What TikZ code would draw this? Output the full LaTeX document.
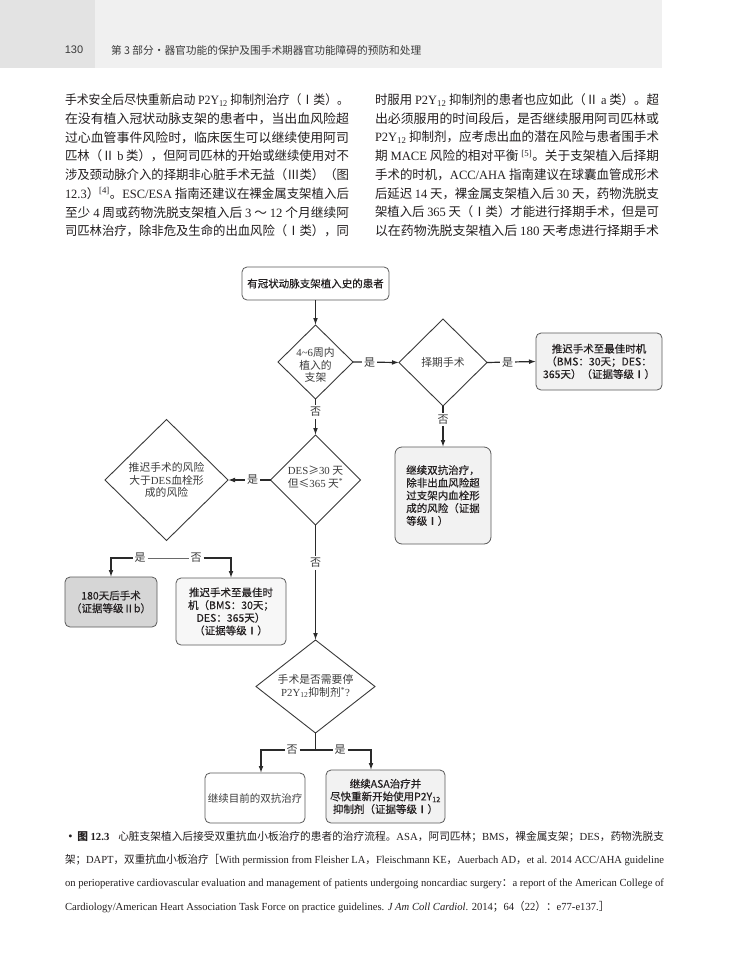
\documentclass[tikz,border=0pt]{standalone}
\usepackage{fontspec}
\usepackage{graphicx}
\setmainfont{Liberation Serif}
\setsansfont{Liberation Sans}
\newfontfamily\cjk{Noto Sans CJK SC}
\newfontfamily\cjkb[FakeBold=0.4]{Noto Sans CJK SC}
\usetikzlibrary{arrows.meta,shapes.geometric,calc}
\newcommand\lat[1]{{\rmfamily #1}}
\newcommand\fsz[2]{\fontsize{#1}{#2}\selectfont}
\newsavebox\fitbox
\newcommand\fitline[2]{\sbox\fitbox{#2}\pgfmathsetmacro\fitsc{#1/(\wd\fitbox)}\global\let\lastfit\fitsc\scalebox{\fitsc}[1]{\usebox\fitbox}}
\definecolor{txt}{HTML}{231F20}
\definecolor{boxline}{HTML}{5A5A5A}
\definecolor{dialine}{HTML}{3A3A3A}
\definecolor{dtxt}{HTML}{3C3C3C}
\definecolor{arrcol}{HTML}{2A2A2A}
\definecolor{hdrband}{HTML}{F0F0F0}
\definecolor{hdrblock}{HTML}{E3E3E3}
\definecolor{hdrtxt}{HTML}{3A3A3A}
\definecolor{fillA}{HTML}{F2F2F2}
\definecolor{fillB}{HTML}{D6D6D6}
\begin{document}
\begin{tikzpicture}[x=1pt,y=-1pt,
 every node/.style={inner sep=0pt, outer sep=0pt},
 bodytxt/.style={anchor=west, font=\cjk\fsz{12.7}{14}, text=txt},
 captxt/.style={anchor=west, font=\cjk\fsz{10.8}{12}, text=txt},
 box/.style={draw=boxline, line width=0.8pt, rounded corners=5pt, align=center, font=\cjkb\fsz{10.5}{12.7}, text=txt},
 dia/.style={draw=dialine, line width=0.9pt, diamond, fill=white},
 dtext/.style={align=center, font=\cjk\fsz{10.8}{12.7}, text=dtxt},
 lbl/.style={font=\cjk\fsz{11}{11}, text=dtxt, fill=white, inner sep=2pt},
 arr/.style={draw=arrcol, line width=1.2pt, -{Latex[length=7pt,width=4.8pt]}},
 conn/.style={draw=arrcol, line width=1.2pt},
 thinconn/.style={draw=arrcol!70, line width=0.6pt}]
\useasboundingbox (0,0) rectangle (730,963);
\fill[white] (0,0) rectangle (730,963);
% header
\fill[hdrband] (0,0) rectangle (662,68);
\fill[hdrblock] (0,0) rectangle (95,68);
\node[font=\sffamily\fsz{11}{12}, text=hdrtxt] (pg) at (74,50) {130};
\node[anchor=west, font=\cjk\fsz{10.7}{12}, text=hdrtxt] (hd) at (111,50) {第 3 部分・器官功能的保护及围手术期器官功能障碍的预防和处理};
% body left
\node[bodytxt] (l1) at (65,100) {\fitline{284}{手术安全后尽快重新启动 \lat{P2Y\textsubscript{12}} 抑制剂治疗（Ⅰ类）。}};
\node[bodytxt] (l2) at (65,118.7) {\fitline{284}{在没有植入冠状动脉支架的患者中，当出血风险超}};
\node[bodytxt] (l3) at (65,137.4) {\fitline{284}{过心血管事件风险时，临床医生可以继续使用阿司}};
\node[bodytxt] (l4) at (65,156.1) {\fitline{284}{匹林（Ⅱ \lat{b} 类），但阿司匹林的开始或继续使用对不}};
\node[bodytxt] (l5) at (65,174.8) {\fitline{284}{涉及颈动脉介入的择期非心脏手术无益（Ⅲ类）（图}};
\node[bodytxt] (l6) at (65,193.5) {\fitline{284}{\lat{12.3}）\lat{\textsuperscript{[4]}}。\lat{ESC/ESA} 指南还建议在裸金属支架植入后}};
\node[bodytxt] (l7) at (65,212.2) {\fitline{284}{至少 \lat{4} 周或药物洗脱支架植入后 \lat{3} ～ \lat{12} 个月继续阿}};
\node[bodytxt] (l8) at (65,230.9) {\fitline{284}{司匹林治疗，除非危及生命的出血风险（Ⅰ类），同}};
% body right
\node[bodytxt] (r1l) at (375,100) {\fitline{284}{时服用 \lat{P2Y\textsubscript{12}} 抑制剂的患者也应如此（Ⅱ \lat{a} 类）。超}};
\node[bodytxt] (r2l) at (375,118.7) {\fitline{284}{出必须服用的时间段后，是否继续服用阿司匹林或}};
\node[bodytxt] (r3l) at (375,137.4) {\fitline{284}{\lat{P2Y\textsubscript{12}} 抑制剂，应考虑出血的潜在风险与患者围手术}};
\node[bodytxt] (r4l) at (375,156.1) {\fitline{284}{期 \lat{MACE} 风险的相对平衡 \lat{\textsuperscript{[5]}}。关于支架植入后择期}};
\node[bodytxt] (r5l) at (375,174.8) {\fitline{284}{手术的时机，\lat{ACC/AHA} 指南建议在球囊血管成形术}};
\node[bodytxt] (r6l) at (375,193.5) {\fitline{284}{后延迟 \lat{14} 天，裸金属支架植入后 \lat{30} 天，药物洗脱支}};
\node[bodytxt] (r7l) at (375,212.2) {\fitline{284}{架植入后 \lat{365} 天（Ⅰ类）才能进行择期手术，但是可}};
\node[bodytxt] (r8l) at (375,230.9) {\fitline{284}{以在药物洗脱支架植入后 \lat{180} 天考虑进行择期手术}};
% flowchart
\node[box, minimum width=147pt, minimum height=33pt] (a) at (315.5,283.5) {有冠状动脉支架植入史的患者};
\node[dia, minimum width=75pt, minimum height=74pt] (d1) at (315.5,362) {};
\node[dtext] (d1t) at (315.5,365) {\lat{4\textasciitilde6}周内\\植入的\\支架};
\node[dia, minimum width=88pt, minimum height=87pt] (d2) at (443,362.5) {};
\node[dtext] (d2t) at (443,362.5) {择期手术};
\node[box, fill=fillA, minimum width=126pt, minimum height=57pt] (r1) at (599,361.5) {推迟手术至最佳时机\\（BMS：30天；DES：\\365天）（证据等级Ⅰ）};
\node[dia, minimum width=90pt, minimum height=90pt] (d3) at (315.5,480) {};
\node[dtext] (d3t) at (315.5,477) {\lat{DES}≥\lat{30} 天\\但≤\lat{365} 天\lat{\textsuperscript{*}}};
\node[box, fill=fillA, rounded corners=7pt, align=left, minimum width=96pt, minimum height=97pt] (r2) at (443,495.5) {继续双抗治疗，\\除非出血风险超\\过支架内血栓形\\成的风险（证据\\等级Ⅰ）};
\node[dia, minimum width=123pt, minimum height=121pt] (d4) at (166.5,480) {};
\node[dtext] (d4t) at (166.5,480) {推迟手术的风险\\大于\lat{DES}血栓形\\成的风险};
\node[box, fill=fillB, minimum width=92pt, minimum height=50pt] (b1) at (111,602) {180天后手术\\（证据等级Ⅱb）};
\node[box, fill=fillA!60, minimum width=110pt, minimum height=67pt] (b2) at (231,611.5) {推迟手术至最佳时\\机（BMS：30天；\\DES：365天）\\（证据等级Ⅰ）};
\node[dia, minimum width=119pt, minimum height=93pt] (d5) at (315.5,686.5) {};
\node[dtext] (d5t) at (315.5,686) {手术是否需要停\\\lat{P2Y\textsubscript{12}}抑制剂\lat{\textsuperscript{*}?}};
\node[box, font=\cjk\fsz{10.5}{12.7}, text=dtxt, minimum width=100pt, minimum height=50pt] (b5) at (255,798) {继续目前的双抗治疗};
\node[box, fill=fillA, minimum width=119pt, minimum height=53pt] (b6) at (385.5,796.5) {继续ASA治疗并\\尽快重新开始使用P2Y\textsubscript{12}\\抑制剂（证据等级Ⅰ）};
% connectors
\draw[arr] (a.south) -- (d1.north);
\draw[arr] (d1.east) -- node[lbl, pos=0.36] (y1) {是} (d2.west);
\draw[arr] (d2.east) -- node[lbl, pos=0.42] (y2) {是} (r1.west);
\draw[arr] (d1.south) -- node[lbl, pos=0.36] (n1) {否} (d3.north);
\draw[arr] (d2.south) -- node[lbl, pos=0.33] (n2) {否} (d2.south |- r2.north);
\draw[arr] (d3.west) -- node[lbl, pos=0.42] (y3) {是} (d4.east);
\draw[arr] (d3.south) -- node[lbl, pos=0.33] (n3) {否} (d5.north);
\node[lbl] (y4) at (140,558) {是};
\node[lbl] (n4) at (196,558) {否};
\draw[arr] (y4.west) -| (b1.north);
\draw[arr] (n4.east) -| (b2.north);
\draw[thinconn] (y4.east) -- (n4.west);
\coordinate (j5) at (315.5,750);
\node[lbl] (n5) at (292,750) {否};
\node[lbl] (y5) at (340,750) {是};
\draw[conn] (d5.south) -- (j5);
\draw[conn] (n5.east) -- (y5.west);
\draw[arr] (n5.west) -| ([xshift=6pt]b5.north);
\draw[arr] (y5.east) -| ([xshift=-14.5pt]b6.north);
% caption
\node[captxt] (c1) at (65,837) {\fitline{599}{{\bfseries •\,图 \lat{\bfseries 12.3}}\hspace{9pt}心脏支架植入后接受双重抗血小板治疗的患者的治疗流程。\lat{ASA}，阿司匹林；\lat{BMS}，裸金属支架；\lat{DES}，药物洗脱支}};
\node[captxt] (c2) at (65,860.5) {\fitline{599}{架；\lat{DAPT}，双重抗血小板治疗［\lat{With permission from Fleisher LA}，\lat{Fleischmann KE}，\lat{Auerbach AD}，\lat{et al. 2014 ACC/AHA guideline}}};
\node[captxt] (c3) at (65,884) {\fitline{599}{\lat{on perioperative cardiovascular evaluation and management of patients undergoing noncardiac surgery}：\lat{a report of the American College of}}};
\node[captxt] (c4) at (65,907.5) {\scalebox{\lastfit}[1]{\lat{Cardiology/American Heart Association Task Force on practice guidelines. \textit{J Am Coll Cardiol}. 2014}；\lat{64}（\lat{22}）：\lat{e77-e137.}］}};
\end{tikzpicture}
\end{document}
